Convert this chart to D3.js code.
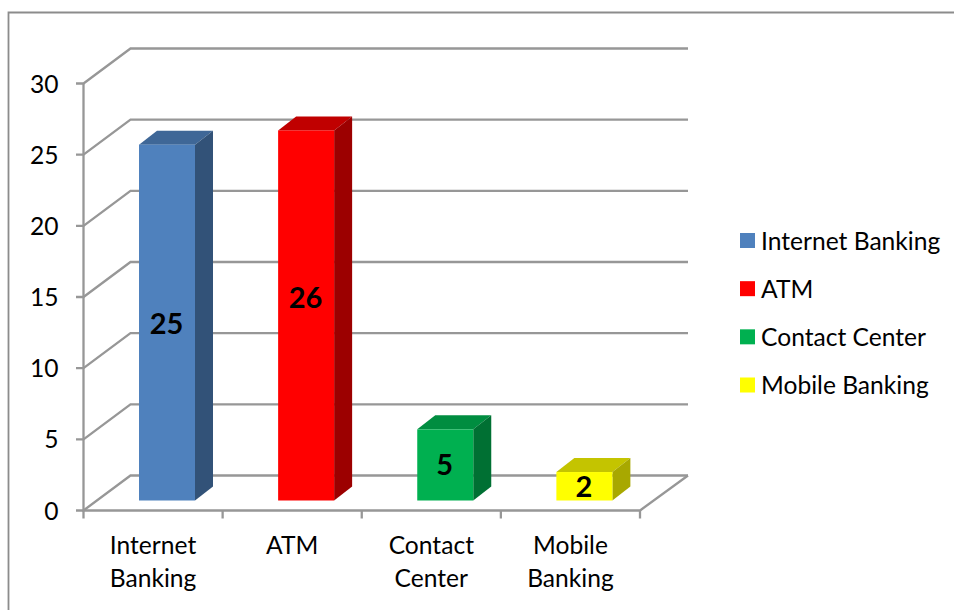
<!DOCTYPE html>
<html><head><meta charset="utf-8">
<script src="https://cdn.jsdelivr.net/npm/d3@7/dist/d3.min.js"></script>
<style>html,body{margin:0;padding:0;background:#fff}svg{display:block}text{font-family:Lato,"Open Sans",sans-serif;fill:#000}</style>
</head><body><svg id="c" width="954" height="610"></svg>
<script>
const categories=["Internet Banking","ATM","Contact Center","Mobile Banking"];
const xLabels=[["Internet","Banking"],["ATM"],["Contact","Center"],["Mobile","Banking"]];
const values=[25,26,5,2];
const yTicks=[0,5,10,15,20,25,30];
const faceColors=["#4f81bd","#ff0000","#00b050","#ffff00"];
const topColors=["#3f6797","#c00000","#008d40","#c4c400"];
const sideColors=["#325278","#9c0000","#007033","#a8a800"];
const labelShift=[1,-17,0,1];
const grid="#979797";
const svg=d3.select("#c");
const fs=24.6;
const x=d3.scaleBand().domain(categories).range([83.5,640]).paddingInner(0).paddingOuter(0);
const y=d3.scaleLinear().domain([0,30]).range([510.5,83.5]);
const dx=47,dy=-35;
const barDx=18,barDy=-14,barShiftX=55.5,barShiftY=-10,barW=56;
svg.append("path").attr("d","M954,12.5H8.5V610").attr("fill","none").attr("stroke","#8c8c8c").attr("stroke-width",1.8);
const g=svg.append("g").attr("fill","none").attr("stroke",grid).attr("stroke-width",2.3);
yTicks.forEach(t=>{
  g.append("path").attr("d",`M76,${y(t)}H${x.range()[0]}L${x.range()[0]+dx},${y(t)+dy}H688`);
});
g.append("path").attr("d",`M${x.range()[0]},${y(30)}V${y(0)}H${x.range()[1]}L688,${y(0)+dy}`);
[...categories.map(c=>x(c)),x.range()[1]].forEach(p=>g.append("line").attr("x1",p).attr("x2",p).attr("y1",y(0)).attr("y2",y(0)+8));
svg.append("g").selectAll("text").data(yTicks).join("text")
  .attr("x",58.5).attr("y",d=>y(d)+9).attr("text-anchor","end").attr("font-size",fs).text(d=>d);
const bars=svg.append("g").selectAll("g").data(categories).join("g");
bars.each(function(c,i){
  const s=d3.select(this),l=x(c)+barShiftX,r=l+barW,t=y(values[i])+barShiftY,b=y(0)+barShiftY;
  s.append("path").attr("d",`M${l},${t}L${l+barDx},${t+barDy}H${r+barDx}L${r},${t}Z`).attr("fill",topColors[i]);
  s.append("path").attr("d",`M${r},${t}L${r+barDx},${t+barDy}V${b+barDy}L${r},${b}Z`).attr("fill",sideColors[i]);
  s.append("rect").attr("x",l).attr("y",t).attr("width",barW).attr("height",b-t).attr("fill",faceColors[i]);
  s.append("text").attr("x",l+barW/2-0.5).attr("y",(t+b)/2+10+labelShift[i]).attr("text-anchor","middle")
   .attr("font-size",29).attr("font-weight",700).text(values[i]);
});
const xl=svg.append("g").selectAll("text").data(categories).join("text")
  .attr("text-anchor","middle").attr("font-size",fs);
xl.each(function(c,i){
  d3.select(this).selectAll("tspan").data(xLabels[i]).join("tspan")
   .attr("x",x(c)+x.bandwidth()/2).attr("y",(d,k)=>553.5+k*33).text(d=>d);
});
const leg=d3.scalePoint().domain(categories).range([240.5,385]);
const lg=svg.append("g").selectAll("g").data(categories).join("g");
lg.append("rect").attr("x",740).attr("y",c=>leg(c)-7.5).attr("width",15).attr("height",15).attr("fill",(c,i)=>faceColors[i]);
lg.append("text").attr("x",761).attr("y",c=>leg(c)+9).attr("font-size",fs).text(c=>c);
</script></body></html>
